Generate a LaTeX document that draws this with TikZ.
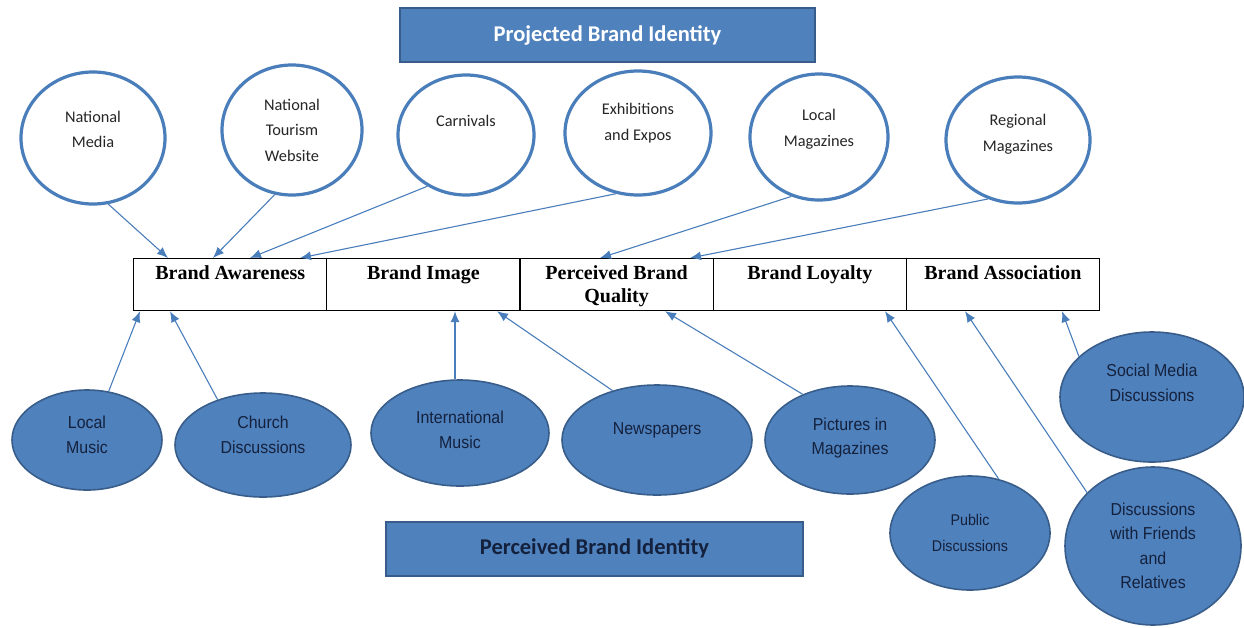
\documentclass[tikz,border=0pt]{standalone}
\usepackage{fontspec}
\setmainfont{Liberation Serif}
\newfontfamily\calibfont{Carlito}
\newfontfamily\narrowfont[FakeStretch=0.92]{Liberation Sans}
\usetikzlibrary{shapes.geometric,arrows.meta,calc}

\definecolor{fillblue}{HTML}{4F81BD}
\definecolor{edgeblue}{HTML}{385D8A}
\definecolor{ringblue}{HTML}{4A7EBB}
\definecolor{linkblue}{HTML}{4A7EBB}
\definecolor{navytext}{HTML}{14213D}
\definecolor{graytext}{HTML}{262626}

\begin{document}
\begin{tikzpicture}[x=1pt,y=-1pt,
  banner/.style={rectangle, fill=fillblue, draw=edgeblue, line width=2pt,
    minimum width=#1, minimum height=54pt, inner sep=0pt,
    font=\calibfont\bfseries\fontsize{22.5}{26}\selectfont},
  topring/.style 2 args={ellipse, draw=ringblue, line width=3.2pt, fill=white,
    minimum width=#1, minimum height=#2, inner sep=0pt},
  bottomoval/.style 2 args={ellipse, draw=edgeblue, line width=1.6pt, fill=fillblue,
    minimum width=#1, minimum height=#2, inner sep=0pt},
  toplabel/.style={align=center, inner sep=0pt, text=graytext,
    font=\calibfont\fontsize{16.3}{25.5}\selectfont},
  ovallabel/.style={align=center, inner sep=0pt, text=navytext,
    font=\narrowfont\fontsize{17.3}{24.5}\selectfont},
  cell/.style={rectangle, draw=black, line width=1.2pt, anchor=north west,
    minimum width=193.2pt, minimum height=52pt, inner sep=0pt,
    font=\bfseries\fontsize{20}{23}\selectfont},
  link/.style={draw=linkblue, line width=1.1pt, -{Latex[length=11pt,width=9pt]}}
]
\useasboundingbox (0,0) rectangle (1244,627);

% headline banners
\node[banner=415pt, text=white] (proj) at (607.5,35) {Projected Brand Identity};
\node[banner=417pt, text=navytext] (perc) at (594.5,548.5) {Perceived Brand Identity};

% dimension table
\newcommand{\celltext}[1]{\parbox[c][52pt][t]{190pt}{\centering\vspace*{7pt}#1}}
\node[cell] (aw) at (133,258)   {\celltext{Brand Awareness}};
\node[cell] (bi) at (326.2,258) {\celltext{Brand Image}};
\node[cell] (pq) at (519.4,258) {\celltext{Perceived Brand\\Quality}};
\node[cell] (bl) at (712.6,258) {\celltext{Brand Loyalty}};
\node[cell] (ba) at (905.8,258) {\celltext{Brand Association}};

% projected sources
\node[topring={144pt}{132pt}] (nm) at (93,138) {};
\node[toplabel] (nm-t) at ([yshift=8.5pt]nm.center) {National\\Media};
\node[topring={140pt}{130pt}] (ntw) at (292,130) {};
\node[toplabel] (ntw-t) at (ntw.center) {National\\Tourism\\Website};
\node[topring={136pt}{120pt}] (car) at (466,135) {};
\node[toplabel] (car-t) at ([yshift=14pt]car.center) {Carnivals};
\node[topring={146pt}{124pt}] (exh) at (638,133) {};
\node[toplabel] (exh-t) at ([yshift=10pt]exh.center) {Exhibitions\\and Expos};
\node[topring={138pt}{126pt}] (lmag) at (819,137) {};
\node[toplabel] (lmag-t) at ([yshift=8pt]lmag.center) {Local\\Magazines};
\node[topring={144pt}{126pt}] (rmag) at (1018,140) {};
\node[toplabel] (rmag-t) at ([yshift=6pt]rmag.center) {Regional\\Magazines};

% perceived sources
\node[bottomoval={150pt}{100pt}] (lmus) at (87,440) {};
\node[ovallabel] (lmus-t) at ([yshift=5pt]lmus.center) {Local\\Music};
\node[bottomoval={176pt}{104pt}] (chu) at (263,445) {};
\node[ovallabel] (chu-t) at ([yshift=10pt]chu.center) {Church\\Discussions};
\node[bottomoval={178pt}{106pt}] (imus) at (460,433) {};
\node[ovallabel] (imus-t) at ([yshift=3pt]imus.center) {International\\Music};
\node[bottomoval={190pt}{110pt}] (news) at (657,440) {};
\node[ovallabel] (news-t) at ([yshift=10pt]news.center) {Newspapers};
\node[bottomoval={170pt}{108pt}] (pic) at (850,440) {};
\node[ovallabel] (pic-t) at ([yshift=2pt]pic.center) {Pictures in\\Magazines};
\node[bottomoval={160pt}{114pt}] (pub) at (970,533) {};
\node[ovallabel, font=\narrowfont\fontsize{15.5}{26}\selectfont] (pub-t) at (pub.center) {Public\\Discussions};
\node[bottomoval={184pt}{130pt}] (soc) at (1152,397) {};
\node[ovallabel] (soc-t) at ([yshift=14pt]soc.center) {Social Media\\Discussions};
\node[bottomoval={176pt}{158pt}] (fri) at (1153,546) {};
\node[ovallabel] (fri-t) at (fri.center) {Discussions\\with Friends\\and\\Relatives};

% links from projected sources into the table
\draw[link] (nm.-77)    -- ([xshift=35pt]aw.north west);
\draw[link] (ntw.-105)  -- ([xshift=80pt]aw.north west);
\draw[link] (car.-127)  -- ([xshift=117pt]aw.north west);
\draw[link] (exh.-110)  -- ([xshift=167pt]aw.north west);
\draw[link] (lmag.-115) -- ([xshift=80.6pt]pq.north west);
\draw[link] (rmag.-117) -- ([xshift=170.6pt]pq.north west);

% links from perceived sources into the table
\draw[link] (lmus.66)  -- ([xshift=7pt]aw.south west);
\draw[link] (chu.135)  -- ([xshift=37pt]aw.south west);
\coordinate (imus-end) at ([xshift=128.8pt]bi.south west);
\draw[link] (imus.north -| imus-end) -- (imus-end);
\draw[link] (news.132) -- ([xshift=170.8pt]bi.south west);
\draw[link] (pic.136)  -- ([xshift=145.6pt]pq.south west);
\draw[link] (pub.62)   -- ([xshift=172.4pt]bl.south west);
\draw[link] (fri.141)  -- ([xshift=59.2pt]ba.south west);
\draw[link] (soc.151)  -- ([xshift=156.2pt]ba.south west);
\end{tikzpicture}
\end{document}
